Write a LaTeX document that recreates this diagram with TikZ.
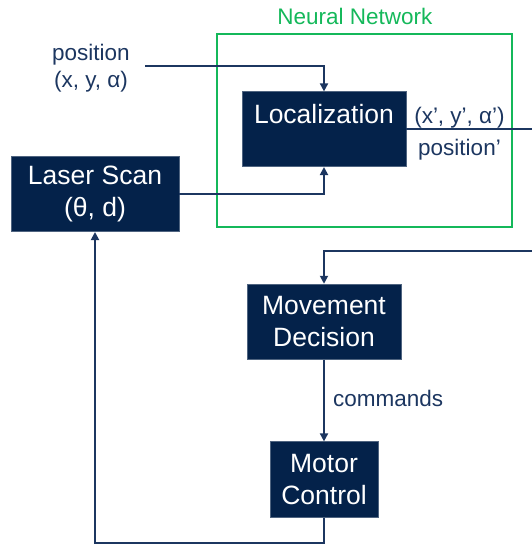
\documentclass[tikz,border=0pt]{standalone}
\usepackage{fontspec}
\setmainfont{Liberation Sans}
\usetikzlibrary{arrows.meta}
\definecolor{boxnavy}{RGB}{4,34,74}
\definecolor{linenavy}{RGB}{28,54,96}
\definecolor{nngreen}{RGB}{20,184,90}
\tikzset{
  box/.style={draw=boxnavy!70!white, line width=0.6pt, fill=boxnavy, text=white, align=center,
    font=\fontsize{26.5}{32}\selectfont, inner sep=0pt},
  boxtxt/.style={text=white, font=\fontsize{26.5}{32}\selectfont, inner sep=0pt},
  lbl/.style={text=linenavy, font=\fontsize{22.5}{27}\selectfont, inner sep=0pt, align=center},
  conn/.style={draw=linenavy, line width=1.8pt},
  arr/.style={conn, -{Triangle[length=8pt,width=8pt]}}
}
\begin{document}
\begin{tikzpicture}[x=1pt,y=-1pt]
\useasboundingbox (0,0) rectangle (532,546);
% neural network frame
\node[draw=nngreen, line width=1.8pt, minimum width=295pt, minimum height=193pt, inner sep=0pt] (nn) at (364.5,130.8) {};
\node[text=nngreen, font=\fontsize{22.5}{27}\selectfont, inner sep=0pt, anchor=base] (nnlabel) at (355,24) {Neural Network};
% boxes
\node[box, minimum width=164pt, minimum height=75pt] (loc) at (324,129.2) {};
\node[boxtxt, anchor=base] (loctext) at (324,123) {Localization};
\node[box, minimum width=168pt, minimum height=75pt] (laser) at (95,194.2) {Laser Scan\\(θ, d)};
\node[box, minimum width=154pt, minimum height=75.3pt] (move) at (324,321.7) {Movement\\Decision};
\node[box, minimum width=108pt, minimum height=75.6pt] (motor) at (324,479.5) {Motor\\Control};
% labels
\node[lbl, anchor=base] (pos1) at (91,60) {position};
\node[lbl, anchor=base] (pos2) at (91,87) {(x, y, α)};
\node[lbl, anchor=base] (out1) at (459.5,123) {(x’, y’, α’)};
\node[lbl, anchor=base] (out2) at (459.5,155) {position’};
\node[lbl, anchor=base west] (cmd) at (333,406) {commands};
% coordinates
\coordinate (pstart) at (145,66);
\coordinate (outend) at (532,130);
\coordinate (fbstart) at (532,250.7);
\coordinate (bot) at (95,543);
% connectors
\draw[arr] (pstart) -| (loc.north);
\draw[arr] (laser.east) -| (loc.south);
\draw[conn] (loc.east) -- (loc.east -| outend);
\draw[arr] (fbstart) -| (move.north);
\draw[arr] (move.south) -- (motor.north);
\draw[arr] (motor.south) |- (bot) -- (laser.south);
\end{tikzpicture}
\end{document}
